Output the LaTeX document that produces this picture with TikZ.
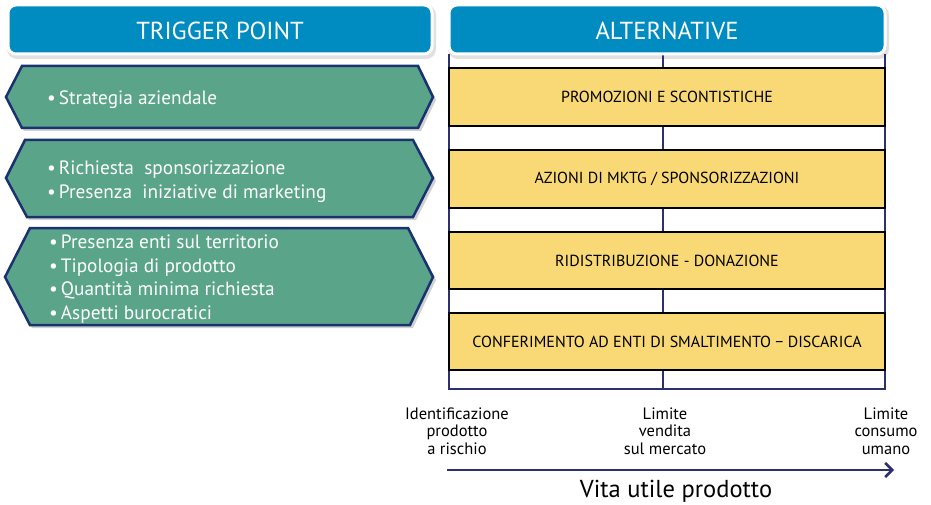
\documentclass[tikz,border=0pt]{standalone}
\usepackage{fontspec}
\setmainfont{PT Sans}
\usetikzlibrary{arrows.meta}
\definecolor{hdrblue}{HTML}{008CC1}
\definecolor{hexgreen}{HTML}{5AA58A}
\definecolor{hexborder}{HTML}{1B3271}
\definecolor{boxyellow}{HTML}{F9D976}
\definecolor{navy}{HTML}{2E2F6E}
\tikzset{
  hdr/.style={fill=hdrblue, draw=white, line width=3pt, rounded corners=8pt,
    text=white, font=\fontsize{24.6}{28}\selectfont, inner sep=0pt, text height=20.5pt, text depth=0pt},
  hdrshadow/.style={fill=black, opacity=0.12, rounded corners=10pt},
  hexa/.style={fill=hexgreen, draw=hexborder, line width=2.5pt, line join=miter},
  hexshadow/.style={fill=black, opacity=0.18},
  hextext/.style={text=white, font=\fontsize{19.3}{23.6}\selectfont, align=left, anchor=west, inner sep=0pt},
  ybox/.style={fill=boxyellow, draw=black, line width=1.2pt, minimum width=436pt, minimum height=58pt,
    inner sep=0pt, font=\fontsize{16}{18}\selectfont},
  tline/.style={draw=navy, line width=1.2pt},
  lbl/.style={align=center, font=\fontsize{16.5}{17.5}\selectfont, inner sep=0pt},
  timearrow/.style={draw=navy, line width=2.5pt, -{Straight Barb[length=7pt,width=14pt]}},
}
\begin{document}
\begin{tikzpicture}[x=1pt,y=-1pt]
\useasboundingbox (0,0) rectangle (931,505);
% header shadows
\fill[hdrshadow] (7,5) rectangle (436,59);
\fill[hdrshadow] (448,5) rectangle (889,59);
% table
\draw[tline] (449,54) -- (449,389) -- (885,389) -- (885,54);
\coordinate (vt) at (663,54);
\coordinate (vb) at (663,389);
\draw[tline] (vt) -- (vb);
% headers
\node[hdr, minimum width=424pt, minimum height=49pt] (tp) at (220,29.5) {TRIGGER POINT};
\node[hdr, minimum width=436pt, minimum height=49pt] (alt) at (667,29.5) {ALTERNATIVE};
% hexagon shadows
\fill[hexshadow] (24,69) -- (421,69) -- (436,100) -- (421,131) -- (24,131) -- (8,100) -- cycle;
\fill[hexshadow] (27,143) -- (416,143) -- (436,181) -- (416,220) -- (29,220) -- (8,181) -- cycle;
\fill[hexshadow] (32,231) -- (411,231) -- (436,280) -- (413,328) -- (32,328) -- (7,280) -- cycle;
% hexagons
\path[hexa] (22,66) -- (418,66) -- (433,97) -- (418,128) -- (22,128) -- (6,97) -- cycle;
\path[hexa] (25,140) -- (413,140) -- (433,178) -- (413,217) -- (27,217) -- (6,178) -- cycle;
\path[hexa] (30,228) -- (408,228) -- (433,277) -- (410,325) -- (30,325) -- (5,277) -- cycle;
\node[hextext] (t1) at (47,100) {\textbullet\hspace{3pt}Strategia aziendale};
\node[hextext] (t2) at (47,182) {\textbullet\hspace{3pt}Richiesta\ \ sponsorizzazione\\\textbullet\hspace{3pt}Presenza\ \ iniziative di marketing};
\node[hextext] (t3) at (49,279) {\textbullet\hspace{3pt}Presenza enti sul territorio\\\textbullet\hspace{3pt}Tipologia di prodotto\\\textbullet\hspace{3pt}Quantità minima richiesta\\\textbullet\hspace{3pt}Aspetti burocratici};
% yellow boxes
\node[ybox] (y1) at (667,97) {PROMOZIONI E SCONTISTICHE};
\node[ybox] (y2) at (667,179) {AZIONI DI MKTG / SPONSORIZZAZIONI};
\node[ybox, minimum height=57pt] (y3) at (667,260.5) {RIDISTRIBUZIONE - DONAZIONE};
\node[ybox, minimum height=57pt] (y4) at (667,341.5) {CONFERIMENTO AD ENTI DI SMALTIMENTO − DISCARICA};
% labels
\node[lbl] (l1) at (457,431) {Identificazione\\prodotto\\a rischio};
\node[lbl] (l2) at (665,431) {Limite\\vendita\\sul mercato};
\node[lbl] (l3) at (886,431) {Limite\\consumo\\umano};
% arrow
\coordinate (a0) at (447,470);
\coordinate (a1) at (894,470);
\draw[timearrow] (a0) -- (a1);
\node[font=\fontsize{24.5}{28}\selectfont, inner sep=0pt] (vu) at (676,491) {Vita utile prodotto};
\end{tikzpicture}
\end{document}
